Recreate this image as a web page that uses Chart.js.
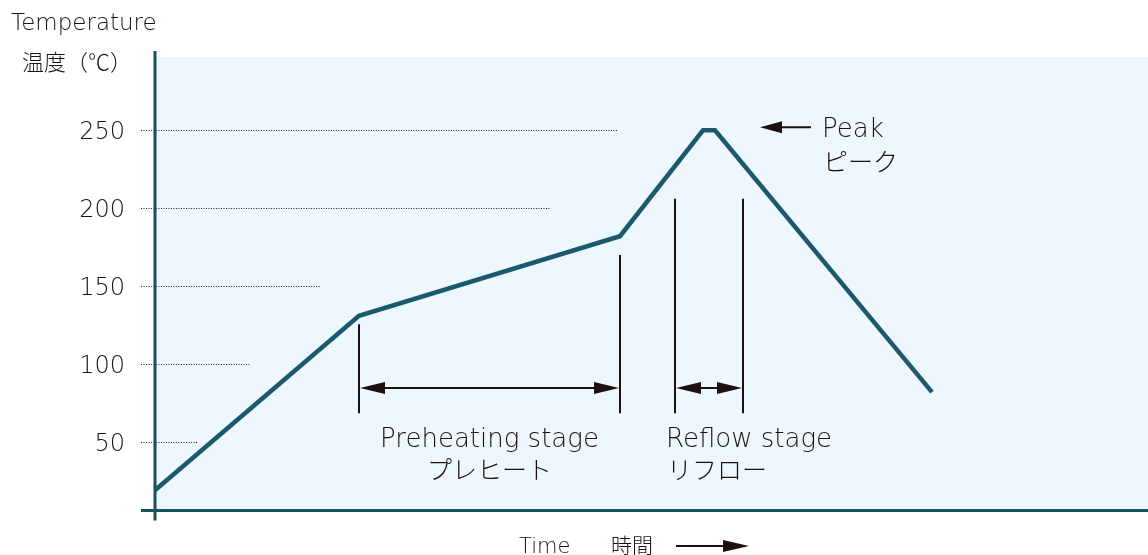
<!DOCTYPE html>
<html>
<head>
<meta charset="utf-8">
<script src="https://cdn.jsdelivr.net/npm/chart.js@4/dist/chart.umd.min.js"></script>
<style>
  html, body { margin: 0; padding: 0; background: #fff; }
  #wrap { width: 1148px; height: 555px; position: relative; }
</style>
</head>
<body>
<div id="wrap"><canvas id="chart" width="1148" height="555"></canvas></div>
<script>
// reflow profile (time in arbitrary units, temperature in °C)
const timePoints = [0, 204, 465, 548, 560, 777];
const temperatures = [19, 131, 182, 250, 250, 82];
const yTicks = [50, 100, 150, 200, 250];
// how far each dotted guide line runs (time units)
const guideEnds = [42, 95, 165, 395, 463];

const LATIN = '"DejaVu Sans", "Noto Sans", sans-serif';
const CJK = '"Noto Sans CJK JP", sans-serif';
const INK = '#1c110d';
const TEAL = '#1b5a6d';
const AXIS = '#1a4f60';

// stage markers, in data coordinates
const preheatStart = 204, preheatEnd = 465;
const reflowStart = 520, reflowEnd = 588;

function arrowHead(ctx, x, y, dir, len, half) {
  ctx.beginPath();
  ctx.moveTo(x, y);
  ctx.lineTo(x - dir * len, y - half);
  ctx.lineTo(x - dir * len, y + half);
  ctx.closePath();
  ctx.fill();
}

const profilePlugin = {
  id: 'profile',
  beforeDatasetsDraw(chart) {
    const { ctx, chartArea: a, scales: { x, y } } = chart;
    ctx.save();
    ctx.fillStyle = '#eef7fd';
    ctx.fillRect(a.left, a.top, a.right - a.left, a.bottom - a.top);

    // dotted guides
    ctx.strokeStyle = '#222';
    ctx.lineWidth = 1;
    ctx.setLineDash([1, 1.5]);
    yTicks.forEach((t, i) => {
      const py = Math.round(y.getPixelForValue(t)) + 0.5;
      ctx.beginPath();
      ctx.moveTo(141, py);
      ctx.lineTo(x.getPixelForValue(guideEnds[i]), py);
      ctx.stroke();
    });
    ctx.setLineDash([]);

    // axes
    ctx.strokeStyle = AXIS;
    ctx.lineWidth = 3;
    ctx.beginPath();
    ctx.moveTo(141, a.bottom);
    ctx.lineTo(a.right, a.bottom);
    ctx.moveTo(a.left, 51);
    ctx.lineTo(a.left, a.bottom + 10);
    ctx.stroke();
    ctx.restore();
  },
  afterDatasetsDraw(chart) {
    const { ctx, scales: { x, y } } = chart;
    ctx.save();
    ctx.strokeStyle = INK;
    ctx.fillStyle = INK;
    ctx.lineWidth = 2;

    const bottom = y.getPixelForValue(68.5);
    const marks = [
      [preheatStart, 125.5], [preheatEnd, 170],
      [reflowStart, 206], [reflowEnd, 206],
    ];
    ctx.beginPath();
    marks.forEach(([t, top]) => {
      const px = Math.round(x.getPixelForValue(t));
      ctx.moveTo(px, y.getPixelForValue(top));
      ctx.lineTo(px, bottom);
    });
    ctx.stroke();

    // double arrows
    const ay = Math.round(y.getPixelForValue(84.5));
    [[preheatStart, preheatEnd], [reflowStart, reflowEnd]].forEach(([t0, t1]) => {
      const x0 = Math.round(x.getPixelForValue(t0)) + 1;
      const x1 = Math.round(x.getPixelForValue(t1)) - 1;
      ctx.beginPath();
      ctx.moveTo(x0 + 10, ay);
      ctx.lineTo(x1 - 10, ay);
      ctx.stroke();
      arrowHead(ctx, x0, ay, -1, 25, 6);
      arrowHead(ctx, x1, ay, 1, 25, 6);
    });

    // peak pointer
    const py = y.getPixelForValue(252);
    const tip = x.getPixelForValue(605);
    ctx.beginPath();
    ctx.moveTo(tip + 10, py);
    ctx.lineTo(tip + 51, py);
    ctx.stroke();
    arrowHead(ctx, tip, py, -1, 22, 6);

    ctx.textBaseline = 'alphabetic';
    ctx.textAlign = 'left';
    ctx.font = '200 26px ' + LATIN;
    ctx.fillText('Peak', tip + 62, 137);
    ctx.font = '300 25px ' + CJK;
    ctx.fillText('ピーク', tip + 63, 171);

    ctx.textAlign = 'center';
    const preMid = (x.getPixelForValue(preheatStart) + x.getPixelForValue(preheatEnd)) / 2;
    ctx.font = '200 26px ' + LATIN;
    ctx.fillText('Preheating stage', preMid, 447);
    ctx.font = '300 25px ' + CJK;
    ctx.fillText('プレヒート', preMid, 479);
    ctx.textAlign = 'left';
    ctx.font = '200 26px ' + LATIN;
    ctx.fillText('Reflow stage', x.getPixelForValue(reflowStart) - 9, 447);
    ctx.font = '300 25px ' + CJK;
    ctx.fillText('リフロー', x.getPixelForValue(reflowStart) - 8, 479);

    // axis titles
    ctx.font = '200 23px ' + LATIN;
    ctx.fillText('Temperature', 11, 30);
    ctx.font = '200 21px ' + LATIN;
    ctx.fillText('Time', 519, 553);
    ctx.font = '300 22px ' + CJK;
    ctx.fillText('温度（℃）', 22, 70);
    ctx.font = '300 21px ' + CJK;
    ctx.fillText('時間', 611, 553);
    ctx.beginPath();
    ctx.moveTo(676, 546);
    ctx.lineTo(730, 546);
    ctx.stroke();
    arrowHead(ctx, 749, 546, 1, 26, 6);
    ctx.restore();
  }
};

new Chart(document.getElementById('chart'), {
  type: 'line',
  data: {
    datasets: [{
      data: timePoints.map((t, i) => ({ x: t, y: temperatures[i] })),
      borderColor: TEAL,
      borderWidth: 4.5,
      pointRadius: 0,
      tension: 0,
      fill: false,
    }],
  },
  options: {
    responsive: false,
    animation: false,
    layout: { padding: { top: 57, bottom: 43, left: 0, right: 0 } },
    plugins: { legend: { display: false }, tooltip: { enabled: false } },
    scales: {
      x: { type: 'linear', min: 0, max: 993, display: false },
      y: {
        min: 6,
        max: 297,
        afterFit: (axis) => { axis.width = 155; },
        afterBuildTicks: (axis) => { axis.ticks = yTicks.map((v) => ({ value: v })); },
        grid: { display: false, drawTicks: false },
        border: { display: false },
        ticks: {
          padding: 30,
          labelOffset: 2.5,
          color: INK,
          font: { family: LATIN, size: 24, weight: 200 },
        },
      },
    },
  },
  plugins: [profilePlugin],
});
</script>
</body>
</html>
